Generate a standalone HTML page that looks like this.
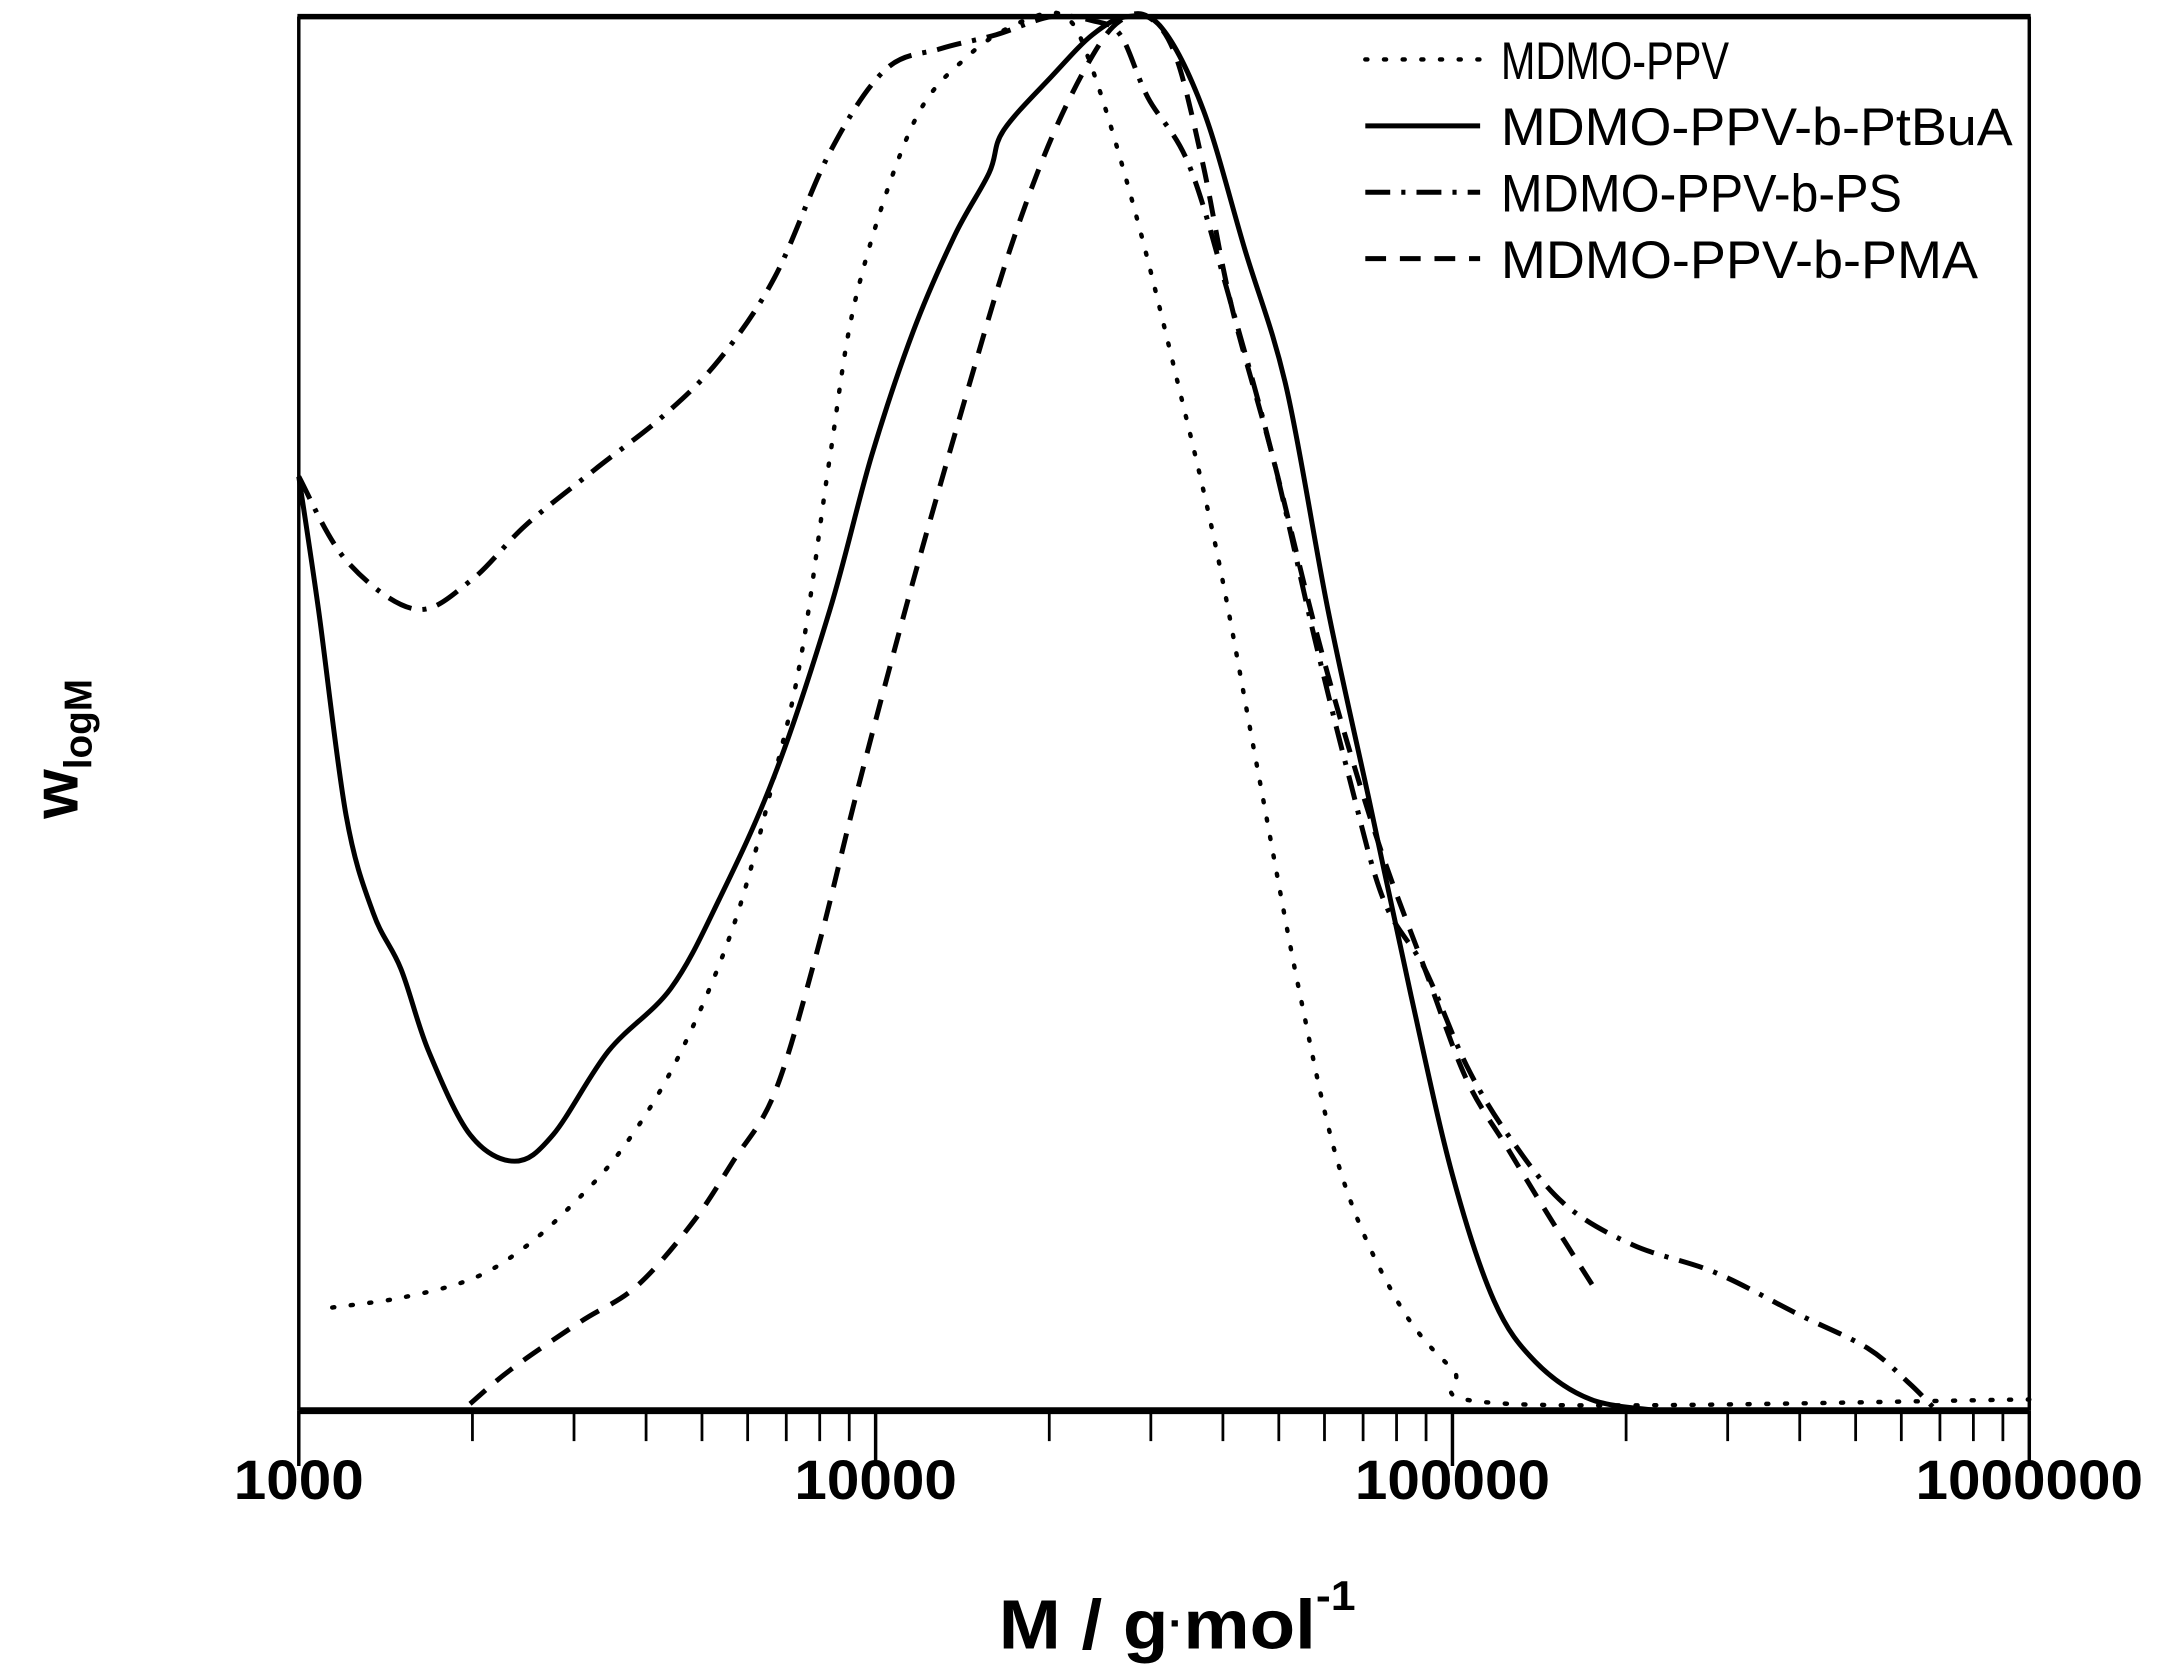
<!DOCTYPE html>
<html><head><meta charset="utf-8"><style>
html,body{margin:0;padding:0;background:#fff;}
svg{display:block;}
text{font-family:"Liberation Sans",Arial,sans-serif;fill:#000;}
</style></head><body>
<svg id="chart" width="2169" height="1679" viewBox="0 0 1568 1214" preserveAspectRatio="none" xmlns="http://www.w3.org/2000/svg">
<g id="plot"></g>
<g id="axes"></g>
<g id="legend"></g>
<text x="722" y="1192" font-size="50" font-weight="bold" textLength="258" lengthAdjust="spacingAndGlyphs">M / g<tspan font-size="30" dy="-8">·</tspan><tspan dy="8">mol</tspan><tspan font-size="30" dy="-28">-1</tspan></text>
<text transform="translate(56,592) rotate(-90)" font-size="46" font-weight="bold">w<tspan font-size="28" dy="10">logM</tspan></text>
</svg>
<script>
const ppvLogM=[3.058,3.177,3.297,3.381,3.465,3.561,3.657,3.753,3.825,3.873,3.921,3.969,4.065,4.161,4.257,4.329,4.376,4.448,4.520,4.592,4.664,4.736,4.808,4.904,5.0,5.096,6.0];
const ppvW=[.074,.081,.094,.114,.144,.188,.253,.347,.456,.546,.685,.804,.923,.972,.997,1.0,.962,.863,.744,.615,.456,.298,.169,.079,.030,.005,.008];
const ptbuaLogM=[3.0,3.034,3.082,3.129,3.177,3.225,3.297,3.374,3.441,3.537,3.645,3.729,3.825,3.921,3.993,4.065,4.137,4.197,4.221,4.305,4.376,4.436,4.496,4.568,4.640,4.712,4.784,4.856,4.928,5.0,5.072,5.144,5.240,5.360];
const ptbuaW=[.670,.575,.427,.357,.317,.258,.198,.179,.198,.258,.303,.367,.456,.575,.685,.774,.843,.888,.918,.957,.987,1.0,.992,.933,.833,.734,.575,.437,.298,.169,.079,.035,.008,0];
const psLogM=[3,3.082,3.201,3.297,3.393,3.513,3.633,3.729,3.825,3.921,4.017,4.113,4.209,4.305,4.376,4.424,4.472,4.544,4.616,4.688,4.760,4.820,4.880,4.952,5.024,5.096,5.192,5.312,5.456,5.600,5.719,5.791,5.839];
const psW=[.670,.610,.575,.595,.635,.675,.714,.754,.813,.903,.962,.977,.987,1.0,.997,.987,.942,.893,.794,.685,.556,.456,.367,.317,.248,.198,.149,.119,.099,.069,.045,.020,0];
const pmaLogM=[3.297,3.369,3.489,3.585,3.681,3.753,3.825,3.897,3.969,4.065,4.161,4.233,4.305,4.376,4.424,4.472,4.520,4.568,4.616,4.688,4.760,4.820,4.880,4.952,5.024,5.096,5.168,5.252];
const pmaW=[.005,.030,.064,.089,.134,.179,.228,.327,.446,.595,.734,.833,.913,.972,.997,1.0,.972,.893,.794,.685,.565,.476,.397,.317,.238,.188,.139,.084];
const xTickLabels=["1000","10000","100000","1000000"];
const legendLabels=["MDMO-PPV","MDMO-PPV-b-PtBuA","MDMO-PPV-b-PS","MDMO-PPV-b-PMA"];

const NS="http://www.w3.org/2000/svg";
const L=216,R=1467,T=12,B=1020;
const xS=lm=>L+(lm-3)/3*(R-L);
const yS=w=>B-w*(B-T);
const styles=[
 {dash:"1.5 12",w:3.2,cap:"round"},
 {dash:"",w:3.6,cap:"butt"},
 {dash:"18 8 3 8",w:3.6,cap:"butt"},
 {dash:"15 10",w:3.6,cap:"butt"}];
const series=[[ppvLogM,ppvW],[ptbuaLogM,ptbuaW],[psLogM,psW],[pmaLogM,pmaW]];
const names=["series-mdmo-ppv","series-ptbua","series-ps","series-pma"];
function smoothPath(pts){
 let d='M'+pts[0][0].toFixed(1)+','+pts[0][1].toFixed(1);
 for(let i=0;i<pts.length-1;i++){
  const p0=pts[Math.max(i-1,0)],p1=pts[i],p2=pts[i+1],p3=pts[Math.min(i+2,pts.length-1)];
  const c1x=p1[0]+(p2[0]-p0[0])/6,c1y=p1[1]+(p2[1]-p0[1])/6;
  const c2x=p2[0]-(p3[0]-p1[0])/6,c2y=p2[1]-(p3[1]-p1[1])/6;
  d+=' C'+c1x.toFixed(1)+','+c1y.toFixed(1)+' '+c2x.toFixed(1)+','+c2y.toFixed(1)+' '+p2[0].toFixed(1)+','+p2[1].toFixed(1);
 }
 return d;
}
const plot=document.getElementById('plot');
series.forEach((s,i)=>{
 const p=document.createElementNS(NS,'path');
 p.setAttribute('d',smoothPath(s[0].map((v,j)=>[xS(v),yS(s[1][j])])));
 p.setAttribute('fill','none');p.setAttribute('stroke','#000');
 p.setAttribute('stroke-width',styles[i].w);
 if(styles[i].dash)p.setAttribute('stroke-dasharray',styles[i].dash);
 p.setAttribute('stroke-linecap',styles[i].cap);p.setAttribute('stroke-linejoin','round');
 
 
 plot.appendChild(p);
});
const axes=document.getElementById('axes');
function line(x1,y1,x2,y2,w,name){
 const l=document.createElementNS(NS,'line');
 l.setAttribute('x1',x1);l.setAttribute('y1',y1);l.setAttribute('x2',x2);l.setAttribute('y2',y2);
 l.setAttribute('stroke','#000');l.setAttribute('stroke-width',w);
 
 
 axes.appendChild(l);
}
line(L,B,R,B,5,'x-axis-line');
line(L-1,T,R+1,T,4,'top-border');
line(L,T,L,B,2.5,'y-axis-line');
line(R,T,R,B,2.5,'right-border');
for(let d=0;d<3;d++){
 for(let k=2;k<10;k++){
  const x=xS(3+d+Math.log10(k));
  line(x,B,x,B+22,2,'x-minor-tick');
 }
}
xTickLabels.forEach((t,i)=>{
 const x=xS(3+i);
 line(x,B,x,B+40,2.5,'x-major-tick');
 const tx=document.createElementNS(NS,'text');
 tx.setAttribute('x',x);tx.setAttribute('y',1084);tx.setAttribute('text-anchor','middle');
 tx.setAttribute('font-size','40');tx.setAttribute('font-weight','bold');
 tx.setAttribute('textLength',t.length*23.5);tx.setAttribute('lengthAdjust','spacingAndGlyphs');
 tx.textContent=t;
 
 
 axes.appendChild(tx);
});
const legWidths=[165,370,290,345];
const leg=document.getElementById('legend');
legendLabels.forEach((t,i)=>{
 const y=43+i*48;
 const l=document.createElementNS(NS,'line');
 l.setAttribute('x1',987);l.setAttribute('x2',1070);l.setAttribute('y1',y);l.setAttribute('y2',y);
 l.setAttribute('stroke','#000');l.setAttribute('stroke-width',styles[i].w);
 if(styles[i].dash)l.setAttribute('stroke-dasharray',styles[i].dash);
 l.setAttribute('stroke-linecap',styles[i].cap);
 
 
 leg.appendChild(l);
 const tx=document.createElementNS(NS,'text');
 tx.setAttribute('x',1085);tx.setAttribute('y',y+14);tx.setAttribute('font-size','38');
 tx.setAttribute('textLength',legWidths[i]);tx.setAttribute('lengthAdjust','spacingAndGlyphs');
 tx.textContent=t;
 
 
 leg.appendChild(tx);
});
</script>
</body></html>
